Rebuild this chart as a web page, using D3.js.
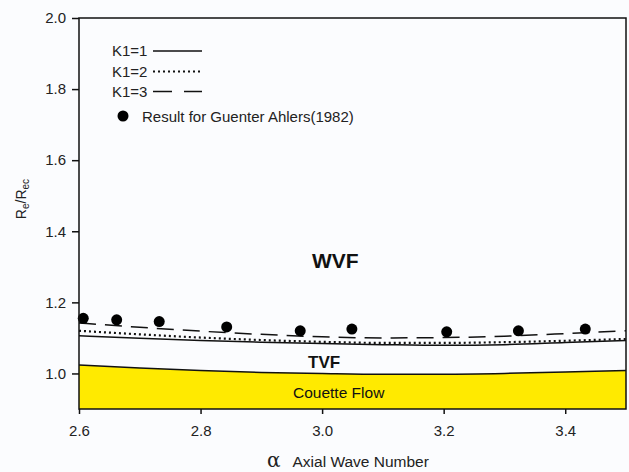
<!DOCTYPE html>
<html>
<head>
<meta charset="utf-8">
<script src="https://cdn.jsdelivr.net/npm/d3@7"></script>
<style>
  body { margin: 0; background: #fbfcfe; }
  svg { display: block; font-family: Arial, "Liberation Sans", sans-serif; }
</style>
</head>
<body>
<div id="chart"></div>
<script>
// alpha grid for the stability curves
const alpha = [2.6, 2.7, 2.8, 2.9, 3.0, 3.1, 3.2, 3.3, 3.4, 3.5];
const k1 = [1.106, 1.099, 1.093, 1.088, 1.084, 1.081, 1.079, 1.081, 1.087, 1.093];
const k2 = [1.120, 1.110, 1.101, 1.094, 1.089, 1.086, 1.086, 1.088, 1.092, 1.097];
const k3 = [1.142, 1.130, 1.119, 1.110, 1.103, 1.100, 1.101, 1.105, 1.112, 1.120];
const couette = [1.024, 1.015, 1.008, 1.003, 1.000, 0.998, 0.998, 1.000, 1.004, 1.008];

// Ahlers (1982) points
const ahlersX = [2.607, 2.662, 2.732, 2.843, 2.964, 3.049, 3.205, 3.323, 3.433];
const ahlersY = [1.155, 1.151, 1.146, 1.131, 1.120, 1.125, 1.117, 1.120, 1.125];

const xTicks = [2.6, 2.8, 3.0, 3.2, 3.4];
const yTicks = [1.0, 1.2, 1.4, 1.6, 1.8, 2.0];
const legendNames = ["K1=1", "K1=2", "K1=3"];

const width = 629;
const height = 472;
const margin = { top: 18, right: 3, bottom: 63, left: 79 };

const svg = d3
  .select("#chart")
  .append("svg")
  .attr("width", width)
  .attr("height", height);

const x = d3.scaleLinear().domain([2.6, 3.5]).range([margin.left, width - margin.right]);
const y = d3.scaleLinear().domain([0.9, 2.0]).range([height - margin.bottom, margin.top]);

// Couette flow region (yellow)
const area = d3
  .area()
  .x((d, i) => x(alpha[i]))
  .y0(y(0.9))
  .y1((d) => y(d))
  .curve(d3.curveMonotoneX);

svg.append("path").datum(couette).attr("d", area).attr("fill", "#ffea00");

const line = d3
  .line()
  .x((d, i) => x(alpha[i]))
  .y((d) => y(d))
  .curve(d3.curveMonotoneX);

svg.append("path").datum(couette).attr("d", line)
  .attr("fill", "none").attr("stroke", "#111").attr("stroke-width", 1.5);

// K1 curves
const series = [
  { vals: k1, dash: null, w: 1.5 },
  { vals: k2, dash: "2,3", w: 2.2 },
  { vals: k3, dash: "17,9", w: 1.5 }
];
series.forEach((s) => {
  svg.append("path").datum(s.vals).attr("d", line)
    .attr("fill", "none").attr("stroke", "#111")
    .attr("stroke-width", s.w)
    .attr("stroke-dasharray", s.dash);
});

// Ahlers dots
svg.selectAll("circle.pt")
  .data(ahlersX)
  .enter()
  .append("circle")
  .attr("class", "pt")
  .attr("cx", (d) => x(d))
  .attr("cy", (d, i) => y(ahlersY[i]))
  .attr("r", 5.5)
  .attr("fill", "#000");

// frame
svg.append("rect")
  .attr("x", x(2.6)).attr("y", y(2.0))
  .attr("width", x(3.5) - x(2.6)).attr("height", y(0.9) - y(2.0))
  .attr("fill", "none").attr("stroke", "#111").attr("stroke-width", 1.5);

// axes
const xAxis = svg.append("g")
  .attr("transform", `translate(0,${y(0.9)})`)
  .call(d3.axisBottom(x).tickValues(xTicks).tickFormat(d3.format(".1f")).tickSize(5).tickSizeOuter(0));
const yAxis = svg.append("g")
  .attr("transform", `translate(${x(2.6)},0)`)
  .call(d3.axisLeft(y).tickValues(yTicks).tickFormat(d3.format(".1f")).tickSize(7).tickPadding(6).tickSizeOuter(0));

[xAxis, yAxis].forEach((g) => {
  g.select(".domain").remove();
  g.selectAll("line").attr("stroke", "#111").attr("stroke-width", 1.5);
  g.selectAll("text").attr("font-size", 15).attr("fill", "#222")
    .attr("font-family", "Arial, 'Liberation Sans', sans-serif");
});
xAxis.selectAll("text").attr("y", 27).attr("dy", 0);

// axis titles
svg.append("text")
  .attr("x", 267).attr("y", 467)
  .attr("font-size", 15.5).attr("fill", "#222")
  .html('<tspan font-size="20" font-family="DejaVu Serif, serif">α</tspan><tspan dx="12">Axial Wave Number</tspan>');

const yt = svg.append("text")
  .attr("transform", "translate(26,199) rotate(-90)")
  .attr("text-anchor", "middle")
  .attr("font-size", 14).attr("fill", "#222");
yt.append("tspan").text("R");
yt.append("tspan").attr("font-size", 10).attr("dy", 3).text("e");
yt.append("tspan").attr("dy", -3).text("/R");
yt.append("tspan").attr("font-size", 10).attr("dy", 3).text("ec");

// region labels
svg.append("text").attr("x", 312).attr("y", 268)
  .attr("font-size", 21).attr("font-weight", "bold").attr("fill", "#111").text("WVF");
svg.append("text").attr("x", 308).attr("y", 368)
  .attr("font-size", 17).attr("font-weight", "bold").attr("fill", "#111").text("TVF");
svg.append("text").attr("x", 293).attr("y", 398)
  .attr("font-size", 15.5).attr("fill", "#111").text("Couette Flow");

// legend
const legendY = [51, 71.5, 91.5];
legendNames.forEach((name, i) => {
  const ly = legendY[i];
  svg.append("text").attr("x", 112).attr("y", ly + 5)
    .attr("font-size", 15).attr("fill", "#222").text(name);
  svg.append("line")
    .attr("x1", 153).attr("x2", 202).attr("y1", ly).attr("y2", ly)
    .attr("stroke", "#111")
    .attr("stroke-width", series[i].w)
    .attr("stroke-dasharray", i === 2 ? "19,12" : series[i].dash);
});
svg.append("circle").attr("cx", 123).attr("cy", 116).attr("r", 5.5).attr("fill", "#000");
svg.append("text").attr("x", 142).attr("y", 122)
  .attr("font-size", 15).attr("fill", "#222").text("Result for Guenter Ahlers(1982)");
</script>
</body>
</html>
